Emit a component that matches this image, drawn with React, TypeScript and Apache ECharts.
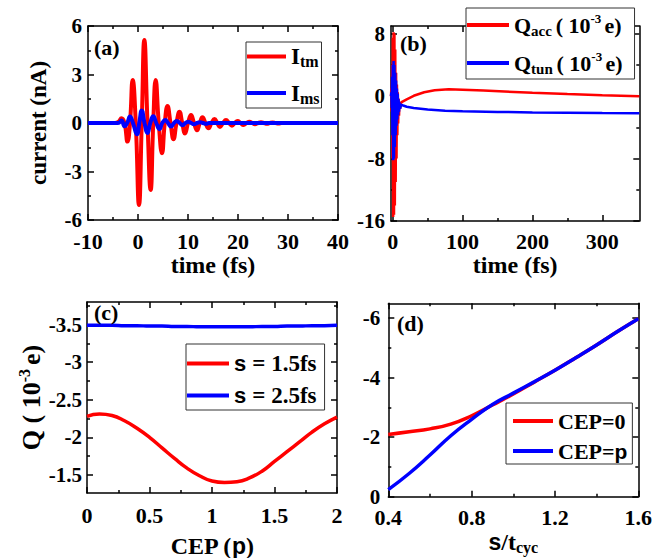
import React, { useEffect, useRef } from 'react';
import * as echarts from 'echarts';

const SERIF = '"Liberation Serif", "Times New Roman", Times, serif';
const SANS = '"Liberation Sans", Arial, sans-serif';
const RED = '#ff0000';
const BLUE = '#0000ff';

// ---------- panel (a): current vs time ----------
const aXMajor = [-10, 0, 10, 20, 30, 40];
const aXMinor = [-5, 5, 15, 25, 35];
const aYMajor = [-6, -3, 0, 3, 6];
const aYMinor = [-4.5, -1.5, 1.5, 4.5];
const itmPoints: number[][] = [
  [-10, 0], [-4.6, 0], [-3.9, 0.08], [-3.3, 0.3], [-2.7, 0], [-2.1, -1.15], [-1.6, 0], [-1.06, 2.66],
  [-0.45, 0], [0.2, -5.07], [0.75, 0], [1.27, 5.13], [1.9, 0], [2.53, -4.14], [3.05, 0], [3.53, 2.66],
  [4.15, 0], [4.8, -1.87], [5.35, 0], [5.9, 1.05], [6.5, 0], [7.1, -1.0], [7.7, 0], [8.3, 0.7],
  [8.85, 0], [9.4, -0.65], [10, 0], [10.6, 0.5], [11.2, 0], [11.8, -0.45], [12.35, 0], [12.9, 0.35],
  [13.5, 0], [14.1, -0.32], [14.7, 0], [15.3, 0.25], [15.85, 0], [16.4, -0.24], [17, 0], [17.6, 0.18],
  [18.2, 0], [18.8, -0.17], [19.35, 0], [19.9, 0.12], [20.5, 0], [21.1, -0.12], [21.7, 0], [22.3, 0.08],
  [22.85, 0], [23.4, -0.08], [24, 0], [24.6, 0.05], [25.2, 0], [25.8, -0.05], [26.35, 0], [26.9, 0.03],
  [27.5, 0], [28.1, -0.03], [28.7, 0], [40, 0],
];
const imsPoints: number[][] = [
  [-10, 0], [-4, 0], [-3.3, 0.15], [-2.7, -0.2], [-2.1, 0.05], [-1.6, 0.4], [-1.0, 0], [-0.2, -0.7],
  [0.25, 0], [0.75, 0.78], [1.3, 0], [1.9, -0.62], [2.45, 0], [3.05, 0.42], [3.65, 0], [4.3, -0.38],
  [4.85, 0], [5.45, 0.18], [6, 0], [6.6, -0.22], [7.2, 0], [7.75, 0.12], [8.35, 0], [8.9, -0.14],
  [9.5, 0], [10.1, 0.08], [10.65, 0], [11.2, -0.08], [11.8, 0], [12.4, 0.05], [13, 0], [13.6, -0.05],
  [14.2, 0], [40, 0],
];

// ---------- panel (b): charge vs time ----------
const bXMajor = [0, 100, 200, 300];
const bXMinor = [50, 150, 250];
const bYMajor = [-16, -8, 0, 8];
const bYMinor = [-12, -4, 4];
const qAccPoints: number[][] = [
  [-2.5, 0], [-2, 1], [-1.5, -2], [-1, 4], [-0.5, -8], [0, 7.5], [0.6, -15.5], [1.2, 8.2],
  [1.8, -15.2], [2.4, 8], [3, -14], [3.6, 6], [4.2, -11], [4.8, 3], [5.4, -8], [6, 1.5],
  [6.6, -5], [7.2, 0.5], [7.8, -3.5], [8.4, -0.3], [9, -2.5], [9.6, -0.8], [10.5, -1.6], [12, -0.8],
  [20, -0.4], [30, 0.05], [45, 0.5], [60, 0.75], [80, 0.88], [100, 0.84], [130, 0.72], [160, 0.6],
  [200, 0.44], [250, 0.27], [300, 0.12], [353, -0.02],
];
const qTunPoints: number[][] = [
  [-2.5, 0], [-2, 0.5], [-1.5, -1.5], [-1, 2.5], [-0.5, -5], [0, 4], [0.6, -8.2], [1.2, 4.5],
  [1.8, -8], [2.4, 4], [3, -6.5], [3.6, 3], [4.2, -5], [4.8, 2], [5.4, -3.8], [6, 1],
  [6.6, -3], [7.2, 0.3], [7.8, -2.4], [8.4, -0.4], [9, -2], [9.6, -0.8], [10.5, -1.6], [12, -1.1],
  [15, -1.2], [20, -1.35], [30, -1.5], [50, -1.7], [75, -1.85], [100, -1.93], [150, -2.02],
  [200, -2.08], [250, -2.12], [300, -2.16], [353, -2.2],
];

// ---------- panel (c): Q vs CEP ----------
const cXMajor = [0, 0.5, 1, 1.5, 2];
const cXMinor = [0.25, 0.75, 1.25, 1.75];
const cYMajor = [-3.5, -3, -2.5, -2, -1.5];
const cYMinor = [-3.75, -3.25, -2.75, -2.25, -1.75, -1.25];
const cepValues = [0, 0.1, 0.2, 0.3, 0.4, 0.5, 0.6, 0.7, 0.8, 0.9, 1.0, 1.1, 1.2, 1.3, 1.4, 1.5, 1.6, 1.7, 1.8, 1.9, 2.0];
const q15 = [-2.28, -2.31, -2.29, -2.22, -2.12, -2.0, -1.86, -1.72, -1.59, -1.49, -1.42, -1.40, -1.41, -1.46, -1.55, -1.68, -1.81, -1.94, -2.07, -2.18, -2.27];
const q25 = [-3.49, -3.49, -3.49, -3.485, -3.485, -3.48, -3.48, -3.475, -3.475, -3.47, -3.47, -3.47, -3.47, -3.47, -3.475, -3.475, -3.48, -3.48, -3.485, -3.485, -3.49];

// ---------- panel (d): Q vs sigma/tau ----------
const dXMajor = [0.4, 0.8, 1.2, 1.6];
const dXMinor = [0.6, 1.0, 1.4];
const dYMajor = [0, -2, -4, -6];
const dYMinor = [-1, -3, -5];
const ratioValues = [0.4, 0.5, 0.6, 0.7, 0.8, 0.9, 1.0, 1.1, 1.2, 1.3, 1.4, 1.5, 1.6];
const qCep0 = [-2.09, -2.18, -2.28, -2.44, -2.72, -3.08, -3.45, -3.85, -4.25, -4.67, -5.1, -5.55, -5.98];
const qCepPi = [-0.24, -0.78, -1.4, -2.05, -2.6, -3.1, -3.48, -3.86, -4.25, -4.67, -5.1, -5.55, -5.98];

const legendText: Record<string, string> = {
  itm: '{m|I}{sub|tm}',
  ims: '{m|I}{sub|ms}',
  qacc: '{m|Q}{sub|acc }{m|( 10}{sup|-3 }{m|e)}',
  qtun: '{m|Q}{sub|tun }{m|( 10}{sup|-3 }{m|e)}',
  s15: '{s|s }{m|= 1.5fs}',
  s25: '{s|s }{m|= 2.5fs}',
  cep0: '{m|CEP=0}',
  cepp: '{m|CEP=}{s|p}',
};

const makeRich = (size: number, lh: number) => ({
  m: { fontFamily: SERIF, fontWeight: 'bold', fontSize: size, lineHeight: lh, color: '#000' },
  s: { fontFamily: SANS, fontWeight: 'bold', fontSize: size - 1, lineHeight: lh, color: '#000' },
  q: { fontFamily: SERIF, fontWeight: 'bold', fontSize: size, lineHeight: lh, color: '#000' },
  sub: { fontFamily: SERIF, fontWeight: 'bold', fontSize: Math.round(size * 0.68), lineHeight: Math.round(lh * 0.5), verticalAlign: 'bottom', color: '#000' },
  sup: { fontFamily: SERIF, fontWeight: 'bold', fontSize: Math.round(size * 0.6), lineHeight: Math.round(lh * 0.45), verticalAlign: 'top', color: '#000' },
});

type AxisOpt = {
  dim: 'x' | 'y'; grid: number; min: number; max: number; major: number[]; minor: number[];
  inverse?: boolean; labelSize: number; labelMargin: number; name?: string; nameGap?: number;
  nameSize?: number; nameLH?: number;
};

function makeAxes(o: AxisOpt) {
  const [p1, p2] = o.dim === 'x' ? ['bottom', 'top'] : ['left', 'right'];
  const line = { color: '#000', width: 1.5 };
  const base = {
    type: 'value', gridIndex: o.grid, min: o.min, max: o.max, inverse: !!o.inverse,
    splitLine: { show: false }, silent: true,
  };
  const tick = (vals: number[], len: number) => ({ show: true, inside: true, length: len, customValues: vals, lineStyle: line });
  const nameSize = o.nameSize || 24;
  const nameLH = o.nameLH || 28;
  return [
    {
      ...base, position: p1,
      axisLine: { show: true, onZero: false, lineStyle: line },
      axisTick: tick(o.major, 6),
      axisLabel: {
        show: true, customValues: o.major, fontFamily: SERIF, fontWeight: 'bold',
        fontSize: o.labelSize, color: '#000', margin: o.labelMargin,
      },
      name: o.name || '', nameLocation: 'middle', nameGap: o.nameGap || 30,
      nameTextStyle: {
        fontFamily: SERIF, fontWeight: 'bold', fontSize: nameSize, color: '#000',
        rich: makeRich(nameSize, nameLH),
      },
    },
    { ...base, position: p1, axisLine: { show: false, onZero: false }, axisTick: tick(o.minor, 3), axisLabel: { show: false } },
    { ...base, position: p2, axisLine: { show: true, onZero: false, lineStyle: line }, axisTick: tick(o.major, 6), axisLabel: { show: false } },
    { ...base, position: p2, axisLine: { show: false, onZero: false }, axisTick: tick(o.minor, 3), axisLabel: { show: false } },
  ];
}

function makeLegend(names: string[], left: number, top: number, padding: number[], itemWidth: number, itemGap: number, size: number, lh: number) {
  return {
    show: true, orient: 'vertical', left, top, padding, itemWidth, itemHeight: 4, itemGap,
    icon: 'rect', data: names, selectedMode: false,
    borderColor: '#333', borderWidth: 1, backgroundColor: '#fff', borderRadius: 0,
    formatter: (n: string) => legendText[n],
    textStyle: { fontFamily: SERIF, fontWeight: 'bold', fontSize: size, color: '#000', rich: makeRich(size, lh) },
  };
}

const panelLabel = (text: string, left: number, top: number) => ({
  type: 'text', left, top, z: 10,
  style: { text, fontFamily: SERIF, fontWeight: 'bold', fontSize: 22, fill: '#000' },
});

const lineSeries = (name: string, grid: number, data: number[][], color: string, width: number, smooth: number | boolean) => ({
  type: 'line', name, xAxisIndex: grid * 4, yAxisIndex: grid * 4, data, color,
  showSymbol: false, symbol: 'none', smooth, lineStyle: { color, width }, silent: true,
});

export default function App() {
  const ref = useRef<HTMLDivElement>(null);
  useEffect(() => {
    if (!ref.current) return;
    const chart = echarts.init(ref.current, undefined, { renderer: 'svg' });
    const xAxes = [
      ...makeAxes({ dim: 'x', grid: 0, min: -10, max: 40, major: aXMajor, minor: aXMinor, labelSize: 22, labelMargin: 10, name: 'time (fs)', nameGap: 29 }),
      ...makeAxes({ dim: 'x', grid: 1, min: -2.5, max: 353, major: bXMajor, minor: bXMinor, labelSize: 22, labelMargin: 9, name: 'time (fs)', nameGap: 29 }),
      ...makeAxes({ dim: 'x', grid: 2, min: 0, max: 2, major: cXMajor, minor: cXMinor, labelSize: 22, labelMargin: 11, name: '{m|CEP (}{s|p}{m|)}', nameGap: 39 }),
      ...makeAxes({ dim: 'x', grid: 3, min: 0.4, max: 1.6, major: dXMajor, minor: dXMinor, labelSize: 22, labelMargin: 10, name: '{s|s}{m|/t}{sub|cyc}', nameGap: 31 }),
    ];
    const yAxes = [
      ...makeAxes({ dim: 'y', grid: 0, min: -6, max: 6, major: aYMajor, minor: aYMinor, labelSize: 21, labelMargin: 6, name: 'current (nA)', nameGap: 38, nameSize: 23 }),
      ...makeAxes({ dim: 'y', grid: 1, min: -16, max: 9, major: bYMajor, minor: bYMinor, labelSize: 21, labelMargin: 6 }),
      ...makeAxes({ dim: 'y', grid: 2, min: -3.8, max: -1.26, inverse: true, major: cYMajor, minor: cYMinor, labelSize: 21, labelMargin: 5, name: '{q|Q ( 10}{sup|-3 }{q|e)}', nameGap: 36, nameSize: 26, nameLH: 30 }),
      ...makeAxes({ dim: 'y', grid: 3, min: -6.5, max: 0, inverse: true, major: dYMajor, minor: dYMinor, labelSize: 21, labelMargin: 8 }),
    ];
    const option = {
      animation: false,
      backgroundColor: '#fff',
      grid: [
        { left: 88, top: 26, width: 250, height: 194, outerBoundsMode: 'none' },
        { left: 391, top: 26, width: 248.3, height: 195, outerBoundsMode: 'none' },
        { left: 87, top: 302, width: 250, height: 191, outerBoundsMode: 'none' },
        { left: 388.3, top: 303.3, width: 250, height: 193.4, outerBoundsMode: 'none' },
      ],
      xAxis: xAxes,
      yAxis: yAxes,
      legend: [
        makeLegend(['itm', 'ims'], 246, 42, [3, 2, 2, 1], 39, 12, 23, 26),
        makeLegend(['qacc', 'qtun'], 466, 8, [4, 12, 3, 1], 42, 12, 22, 26),
        makeLegend(['s15', 's25'], 186, 344, [8, 8, 3, 1], 42, 9, 23, 24),
        makeLegend(['cep0', 'cepp'], 506, 403, [7, 5, 2, 7], 40, 8, 22, 22),
      ],
      graphic: [
        panelLabel('(a)', 94, 36),
        panelLabel('(b)', 400, 32),
        panelLabel('(c)', 94, 301),
        panelLabel('(d)', 397, 312),
      ],
      series: [
        lineSeries('itm', 0, itmPoints, RED, 4, 0.5),
        lineSeries('ims', 0, imsPoints, BLUE, 4, 0.5),
        lineSeries('qacc', 1, qAccPoints, RED, 2.5, false),
        lineSeries('qtun', 1, qTunPoints, BLUE, 2.5, false),
        lineSeries('s15', 2, cepValues.map((x, i) => [x, q15[i]]), RED, 3.5, true),
        lineSeries('s25', 2, cepValues.map((x, i) => [x, q25[i]]), BLUE, 3.5, true),
        lineSeries('cep0', 3, ratioValues.map((x, i) => [x, qCep0[i]]), RED, 3.5, true),
        lineSeries('cepp', 3, ratioValues.map((x, i) => [x, qCepPi[i]]), BLUE, 3.5, true),
      ],
    };
    chart.setOption(option as any);
    return () => chart.dispose();
  }, []);
  return <div ref={ref} style={{ position: 'absolute', left: 0, top: 0, width: 654, height: 558 }} />;
}
